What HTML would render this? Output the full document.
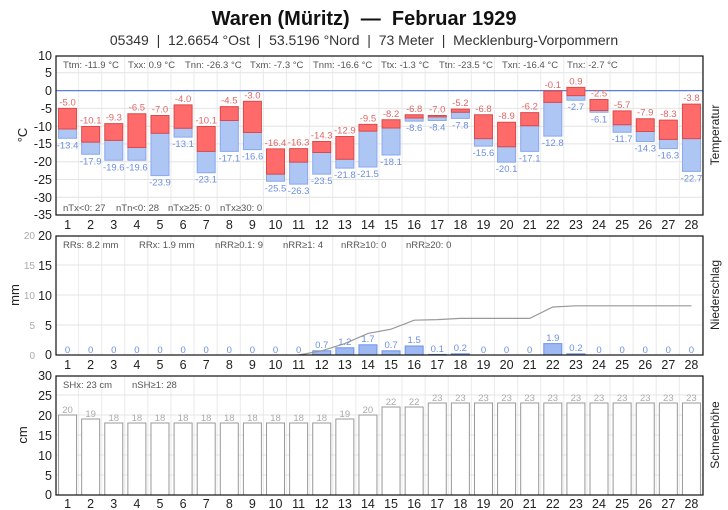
<!DOCTYPE html>
<html><head><meta charset="utf-8"><style>
body{margin:0;background:#fff}
svg{display:block;font-family:"Liberation Sans",sans-serif}
.s{font-size:9.5px;fill:#555}
.tk{font-size:12.5px;fill:#222}
.tx{font-size:9.5px;fill:#e06666;text-anchor:middle}
.tn{font-size:9.5px;fill:#6d8fe0;text-anchor:middle}
.sn{font-size:9.5px;fill:#aaa;text-anchor:middle}
.d text{font-size:12.5px;fill:#222;text-anchor:middle}
.b rect{vector-effect:non-scaling-stroke}
</style></head><body>
<svg width="728" height="510" viewBox="0 0 728 510">
<defs>
<pattern id="vg" x="56" y="0" width="23.107" height="510" patternUnits="userSpaceOnUse"><rect x="22" y="0" width="2" height="510" fill="#ececec"/></pattern>
</defs>
<text x="364" y="25" text-anchor="middle" font-size="20" font-weight="bold" fill="#111">Waren (Müritz)&#160; —&#160; Februar 1929</text>
<text x="364" y="45" text-anchor="middle" font-size="14" fill="#333">05349&#160; |&#160; 12.6654 °Ost&#160; |&#160; 53.5196 °Nord&#160; |&#160; 73 Meter&#160; |&#160; Mecklenburg-Vorpommern</text>

<!-- Panel 1 -->
<rect x="56" y="56" width="647" height="159" fill="url(#vg)"/>
<g stroke="#e4e4e4" stroke-width="1">
<line x1="56" x2="703" y1="72.8" y2="72.8"/><line x1="56" x2="703" y1="108.4" y2="108.4"/><line x1="56" x2="703" y1="126.2" y2="126.2"/><line x1="56" x2="703" y1="143.9" y2="143.9"/><line x1="56" x2="703" y1="161.7" y2="161.7"/><line x1="56" x2="703" y1="179.5" y2="179.5"/><line x1="56" x2="703" y1="197.3" y2="197.3"/>
</g>
<line x1="56" x2="703" y1="90.6" y2="90.6" stroke="#5b7fd6" stroke-width="1.2"/>
<g transform="translate(0,90.6) scale(1,-3.556)">
<g class="b" fill="#aec6f4" stroke="#8aa8ec" stroke-width="1">
<rect x="58.55" y="-13.4" width="18" height="2.6"/><rect x="81.66" y="-17.9" width="18" height="3.4"/><rect x="104.77" y="-19.6" width="18" height="5.6"/><rect x="127.87" y="-19.6" width="18" height="3.6"/><rect x="150.98" y="-23.9" width="18" height="11.9"/><rect x="174.09" y="-13.1" width="18" height="2.5"/><rect x="197.19" y="-23.1" width="18" height="6"/><rect x="220.3" y="-17.1" width="18" height="8.7"/><rect x="243.41" y="-16.6" width="18" height="4.8"/><rect x="266.51" y="-25.5" width="18" height="2"/><rect x="289.62" y="-26.3" width="18" height="6.2"/><rect x="312.73" y="-23.5" width="18" height="6.1"/><rect x="335.84" y="-21.8" width="18" height="2.5"/><rect x="358.94" y="-21.5" width="18" height="10.1"/><rect x="382.05" y="-18.1" width="18" height="7.6"/><rect x="405.16" y="-8.6" width="18" height="0.9"/><rect x="428.26" y="-8.4" width="18" height="1"/><rect x="451.37" y="-7.8" width="18" height="1.7"/><rect x="474.48" y="-15.6" width="18" height="2.1"/><rect x="497.58" y="-20.1" width="18" height="4.3"/><rect x="520.69" y="-17.1" width="18" height="7.2"/><rect x="543.8" y="-12.8" width="18" height="9.5"/><rect x="566.91" y="-2.7" width="18" height="1.3"/><rect x="590.01" y="-6.1" width="18" height="0.5"/><rect x="613.12" y="-11.7" width="18" height="2.1"/><rect x="636.23" y="-14.3" width="18" height="2.8"/><rect x="659.33" y="-16.3" width="18" height="2.6"/><rect x="682.44" y="-22.7" width="18" height="9.2"/>
</g>
<g class="b" fill="#ff6b6b" stroke="#d94a4a" stroke-width="1">
<rect x="58.55" y="-10.8" width="18" height="5.8"/><rect x="81.66" y="-14.5" width="18" height="4.4"/><rect x="104.77" y="-14" width="18" height="4.7"/><rect x="127.87" y="-16" width="18" height="9.5"/><rect x="150.98" y="-12" width="18" height="5"/><rect x="174.09" y="-10.6" width="18" height="6.6"/><rect x="197.19" y="-17.1" width="18" height="7"/><rect x="220.3" y="-8.4" width="18" height="3.9"/><rect x="243.41" y="-11.8" width="18" height="8.8"/><rect x="266.51" y="-23.5" width="18" height="7.1"/><rect x="289.62" y="-20.1" width="18" height="3.8"/><rect x="312.73" y="-17.4" width="18" height="3.1"/><rect x="335.84" y="-19.3" width="18" height="6.4"/><rect x="358.94" y="-11.4" width="18" height="1.9"/><rect x="382.05" y="-10.5" width="18" height="2.3"/><rect x="405.16" y="-7.7" width="18" height="0.9"/><rect x="428.26" y="-7.4" width="18" height="0.4"/><rect x="451.37" y="-6.1" width="18" height="0.9"/><rect x="474.48" y="-13.5" width="18" height="6.7"/><rect x="497.58" y="-15.8" width="18" height="6.9"/><rect x="520.69" y="-9.9" width="18" height="3.7"/><rect x="543.8" y="-3.3" width="18" height="3.2"/><rect x="566.91" y="-1.4" width="18" height="2.3"/><rect x="590.01" y="-5.6" width="18" height="3.1"/><rect x="613.12" y="-9.6" width="18" height="3.9"/><rect x="636.23" y="-11.5" width="18" height="3.6"/><rect x="659.33" y="-13.7" width="18" height="5.4"/><rect x="682.44" y="-13.5" width="18" height="9.7"/>
</g>
</g>
<g class="tx">
<text x="67.55" y="105.4">-5.0</text><text x="90.66" y="123.5">-10.1</text><text x="113.77" y="120.7">-9.3</text><text x="136.87" y="110.7">-6.5</text><text x="159.98" y="112.5">-7.0</text><text x="183.09" y="101.8">-4.0</text><text x="206.19" y="123.5">-10.1</text><text x="229.3" y="103.6">-4.5</text><text x="252.41" y="98.3">-3.0</text><text x="275.51" y="145.9">-16.4</text><text x="298.62" y="145.6">-16.3</text><text x="321.73" y="138.4">-14.3</text><text x="344.84" y="133.5">-12.9</text><text x="367.94" y="121.4">-9.5</text><text x="391.05" y="116.8">-8.2</text><text x="414.16" y="111.8">-6.8</text><text x="437.26" y="112.5">-7.0</text><text x="460.37" y="106.1">-5.2</text><text x="483.48" y="111.8">-6.8</text><text x="506.58" y="119.2">-8.9</text><text x="529.69" y="109.6">-6.2</text><text x="552.8" y="88">-0.1</text><text x="575.91" y="84.4">0.9</text><text x="599.01" y="96.5">-2.5</text><text x="622.12" y="107.9">-5.7</text><text x="645.23" y="115.7">-7.9</text><text x="668.33" y="117.1">-8.3</text><text x="691.44" y="101.1">-3.8</text>
</g>
<g class="tn">
<text x="67.55" y="148.3">-13.4</text><text x="90.66" y="164.3">-17.9</text><text x="113.77" y="170.3">-19.6</text><text x="136.87" y="170.3">-19.6</text><text x="159.98" y="185.6">-23.9</text><text x="183.09" y="147.2">-13.1</text><text x="206.19" y="182.7">-23.1</text><text x="229.3" y="161.4">-17.1</text><text x="252.41" y="159.6">-16.6</text><text x="275.51" y="191.3">-25.5</text><text x="298.62" y="194.1">-26.3</text><text x="321.73" y="184.2">-23.5</text><text x="344.84" y="178.1">-21.8</text><text x="367.94" y="177.1">-21.5</text><text x="391.05" y="165">-18.1</text><text x="414.16" y="131.2">-8.6</text><text x="437.26" y="130.5">-8.4</text><text x="460.37" y="128.3">-7.8</text><text x="483.48" y="156.1">-15.6</text><text x="506.58" y="172.1">-20.1</text><text x="529.69" y="161.4">-17.1</text><text x="552.8" y="146.1">-12.8</text><text x="575.91" y="110.2">-2.7</text><text x="599.01" y="122.3">-6.1</text><text x="622.12" y="142.2">-11.7</text><text x="645.23" y="151.4">-14.3</text><text x="668.33" y="158.6">-16.3</text><text x="691.44" y="181.3">-22.7</text>
</g>
<g class="s">
<text x="63" y="68">Ttm: -11.9 °C</text><text x="128" y="68">Txx: 0.9 °C</text><text x="185" y="68">Tnn: -26.3 °C</text><text x="250" y="68">Txm: -7.3 °C</text><text x="313" y="68">Tnm: -16.6 °C</text><text x="381" y="68">Ttx: -1.3 °C</text><text x="439" y="68">Ttn: -23.5 °C</text><text x="502" y="68">Txn: -16.4 °C</text><text x="567" y="68">Tnx: -2.7 °C</text>
<text x="63" y="211">nTx&lt;0: 27</text><text x="116" y="211">nTn&lt;0: 28</text><text x="168" y="211">nTx≥25: 0</text><text x="220" y="211">nTx≥30: 0</text>
</g>
<rect x="56" y="56" width="647" height="159" fill="none" stroke="#111" stroke-width="1.2"/>
<g class="tk" text-anchor="end">
<text x="52" y="60">10</text><text x="52" y="77">5</text><text x="52" y="95">0</text><text x="52" y="113">-5</text><text x="52" y="131">-10</text><text x="52" y="148">-15</text><text x="52" y="166">-20</text><text x="52" y="184">-25</text><text x="52" y="202">-30</text><text x="52" y="219">-35</text>
</g>
<text transform="translate(27,135) rotate(-90)" text-anchor="middle" font-size="13" fill="#222">°C</text>
<text transform="translate(719,135) rotate(-90)" text-anchor="middle" font-size="12" fill="#222">Temperatur</text>

<!-- Panel 2 -->
<rect x="56" y="236" width="647" height="119" fill="url(#vg)"/>
<g stroke="#e4e4e4" stroke-width="1">
<line x1="56" x2="703" y1="265" y2="265"/><line x1="56" x2="703" y1="295" y2="295"/><line x1="56" x2="703" y1="325" y2="325"/>
</g>
<g fill="#9db8f2" stroke="#6f93e6" stroke-width="1">
<rect x="312.73" y="350.8" width="18" height="4.2"/><rect x="335.84" y="347.8" width="18" height="7.2"/><rect x="358.94" y="344.8" width="18" height="10.2"/><rect x="382.05" y="350.8" width="18" height="4.2"/><rect x="405.16" y="346" width="18" height="9"/><rect x="428.26" y="354.4" width="18" height="0.6"/><rect x="451.37" y="353.8" width="18" height="1.2"/><rect x="543.8" y="343.6" width="18" height="11.4"/><rect x="566.91" y="353.8" width="18" height="1.2"/>
</g>
<polyline fill="none" stroke="#999" stroke-width="1.2" points="298.62,355 321.73,350.8 344.84,343.6 367.94,333.4 391.05,329.2 414.16,320.2 437.26,319.6 460.37,318.4 529.69,318.4 552.8,307 575.91,305.8 691.44,305.8"/>
<g class="tn">
<text x="67.55" y="353">0</text><text x="90.66" y="353">0</text><text x="113.77" y="353">0</text><text x="136.87" y="353">0</text><text x="159.98" y="353">0</text><text x="183.09" y="353">0</text><text x="206.19" y="353">0</text><text x="229.3" y="353">0</text><text x="252.41" y="353">0</text><text x="275.51" y="353">0</text><text x="298.62" y="353">0</text><text x="321.73" y="348">0.7</text><text x="344.84" y="345">1.2</text><text x="367.94" y="342">1.7</text><text x="391.05" y="348">0.7</text><text x="414.16" y="343">1.5</text><text x="437.26" y="352">0.1</text><text x="460.37" y="351">0.2</text><text x="483.48" y="353">0</text><text x="506.58" y="353">0</text><text x="529.69" y="353">0</text><text x="552.8" y="341">1.9</text><text x="575.91" y="351">0.2</text><text x="599.01" y="353">0</text><text x="622.12" y="353">0</text><text x="645.23" y="353">0</text><text x="668.33" y="353">0</text><text x="691.44" y="353">0</text>
</g>
<g class="s">
<text x="63" y="248">RRs: 8.2 mm</text><text x="139" y="248">RRx: 1.9 mm</text><text x="215" y="248">nRR≥0.1: 9</text><text x="283" y="248">nRR≥1: 4</text><text x="341" y="248">nRR≥10: 0</text><text x="406" y="248">nRR≥20: 0</text>
</g>
<rect x="56" y="236" width="647" height="119" fill="none" stroke="#111" stroke-width="1.2"/>
<g class="tk" text-anchor="end">
<text x="52" y="240">20</text><text x="52" y="270">15</text><text x="52" y="300">10</text><text x="52" y="330">5</text><text x="52" y="359">0</text>
</g>
<g font-size="10" fill="#aaa" text-anchor="end">
<text x="35" y="239">20</text><text x="35" y="269">15</text><text x="35" y="299">10</text><text x="35" y="329">5</text><text x="35" y="359">0</text>
</g>
<text transform="translate(19,295) rotate(-90)" text-anchor="middle" font-size="13" fill="#222">mm</text>
<text transform="translate(719,295) rotate(-90)" text-anchor="middle" font-size="12" fill="#222">Niederschlag</text>

<!-- Panel 3 -->
<rect x="56" y="376" width="647" height="119" fill="url(#vg)"/>
<g stroke="#e4e4e4" stroke-width="1">
<line x1="56" x2="703" y1="395" y2="395"/><line x1="56" x2="703" y1="415" y2="415"/><line x1="56" x2="703" y1="435" y2="435"/><line x1="56" x2="703" y1="455" y2="455"/><line x1="56" x2="703" y1="475" y2="475"/>
</g>
<g fill="#fff" stroke="#999" stroke-width="1">
<rect x="58.55" y="415" width="18" height="80"/><rect x="81.66" y="419" width="18" height="76"/><rect x="104.77" y="423" width="18" height="72"/><rect x="127.87" y="423" width="18" height="72"/><rect x="150.98" y="423" width="18" height="72"/><rect x="174.09" y="423" width="18" height="72"/><rect x="197.19" y="423" width="18" height="72"/><rect x="220.3" y="423" width="18" height="72"/><rect x="243.41" y="423" width="18" height="72"/><rect x="266.51" y="423" width="18" height="72"/><rect x="289.62" y="423" width="18" height="72"/><rect x="312.73" y="423" width="18" height="72"/><rect x="335.84" y="419" width="18" height="76"/><rect x="358.94" y="415" width="18" height="80"/><rect x="382.05" y="407" width="18" height="88"/><rect x="405.16" y="407" width="18" height="88"/><rect x="428.26" y="403" width="18" height="92"/><rect x="451.37" y="403" width="18" height="92"/><rect x="474.48" y="403" width="18" height="92"/><rect x="497.58" y="403" width="18" height="92"/><rect x="520.69" y="403" width="18" height="92"/><rect x="543.8" y="403" width="18" height="92"/><rect x="566.91" y="403" width="18" height="92"/><rect x="590.01" y="403" width="18" height="92"/><rect x="613.12" y="403" width="18" height="92"/><rect x="636.23" y="403" width="18" height="92"/><rect x="659.33" y="403" width="18" height="92"/><rect x="682.44" y="403" width="18" height="92"/>
</g>
<g class="sn">
<text x="67.55" y="413">20</text><text x="90.66" y="417">19</text><text x="113.77" y="421">18</text><text x="136.87" y="421">18</text><text x="159.98" y="421">18</text><text x="183.09" y="421">18</text><text x="206.19" y="421">18</text><text x="229.3" y="421">18</text><text x="252.41" y="421">18</text><text x="275.51" y="421">18</text><text x="298.62" y="421">18</text><text x="321.73" y="421">18</text><text x="344.84" y="417">19</text><text x="367.94" y="413">20</text><text x="391.05" y="405">22</text><text x="414.16" y="405">22</text><text x="437.26" y="401">23</text><text x="460.37" y="401">23</text><text x="483.48" y="401">23</text><text x="506.58" y="401">23</text><text x="529.69" y="401">23</text><text x="552.8" y="401">23</text><text x="575.91" y="401">23</text><text x="599.01" y="401">23</text><text x="622.12" y="401">23</text><text x="645.23" y="401">23</text><text x="668.33" y="401">23</text><text x="691.44" y="401">23</text>
</g>
<g class="s">
<text x="63" y="388">SHx: 23 cm</text><text x="132" y="388">nSH≥1: 28</text>
</g>
<rect x="56" y="376" width="647" height="119" fill="none" stroke="#111" stroke-width="1.2"/>
<g class="tk" text-anchor="end">
<text x="52" y="380">30</text><text x="52" y="400">25</text><text x="52" y="420">20</text><text x="52" y="440">15</text><text x="52" y="460">10</text><text x="52" y="480">5</text><text x="52" y="499">0</text>
</g>
<text transform="translate(27,435) rotate(-90)" text-anchor="middle" font-size="13" fill="#222">cm</text>
<text transform="translate(719,435) rotate(-90)" text-anchor="middle" font-size="12" fill="#222">Schneehöhe</text>

<!-- day labels -->
<g class="d">
<text x="67.55" y="229">1</text><text x="90.66" y="229">2</text><text x="113.77" y="229">3</text><text x="136.87" y="229">4</text><text x="159.98" y="229">5</text><text x="183.09" y="229">6</text><text x="206.19" y="229">7</text><text x="229.3" y="229">8</text><text x="252.41" y="229">9</text><text x="275.51" y="229">10</text><text x="298.62" y="229">11</text><text x="321.73" y="229">12</text><text x="344.84" y="229">13</text><text x="367.94" y="229">14</text><text x="391.05" y="229">15</text><text x="414.16" y="229">16</text><text x="437.26" y="229">17</text><text x="460.37" y="229">18</text><text x="483.48" y="229">19</text><text x="506.58" y="229">20</text><text x="529.69" y="229">21</text><text x="552.8" y="229">22</text><text x="575.91" y="229">23</text><text x="599.01" y="229">24</text><text x="622.12" y="229">25</text><text x="645.23" y="229">26</text><text x="668.33" y="229">27</text><text x="691.44" y="229">28</text>
</g>
<g class="d">
<text x="67.55" y="369">1</text><text x="90.66" y="369">2</text><text x="113.77" y="369">3</text><text x="136.87" y="369">4</text><text x="159.98" y="369">5</text><text x="183.09" y="369">6</text><text x="206.19" y="369">7</text><text x="229.3" y="369">8</text><text x="252.41" y="369">9</text><text x="275.51" y="369">10</text><text x="298.62" y="369">11</text><text x="321.73" y="369">12</text><text x="344.84" y="369">13</text><text x="367.94" y="369">14</text><text x="391.05" y="369">15</text><text x="414.16" y="369">16</text><text x="437.26" y="369">17</text><text x="460.37" y="369">18</text><text x="483.48" y="369">19</text><text x="506.58" y="369">20</text><text x="529.69" y="369">21</text><text x="552.8" y="369">22</text><text x="575.91" y="369">23</text><text x="599.01" y="369">24</text><text x="622.12" y="369">25</text><text x="645.23" y="369">26</text><text x="668.33" y="369">27</text><text x="691.44" y="369">28</text>
</g>
<g class="d">
<text x="67.55" y="508">1</text><text x="90.66" y="508">2</text><text x="113.77" y="508">3</text><text x="136.87" y="508">4</text><text x="159.98" y="508">5</text><text x="183.09" y="508">6</text><text x="206.19" y="508">7</text><text x="229.3" y="508">8</text><text x="252.41" y="508">9</text><text x="275.51" y="508">10</text><text x="298.62" y="508">11</text><text x="321.73" y="508">12</text><text x="344.84" y="508">13</text><text x="367.94" y="508">14</text><text x="391.05" y="508">15</text><text x="414.16" y="508">16</text><text x="437.26" y="508">17</text><text x="460.37" y="508">18</text><text x="483.48" y="508">19</text><text x="506.58" y="508">20</text><text x="529.69" y="508">21</text><text x="552.8" y="508">22</text><text x="575.91" y="508">23</text><text x="599.01" y="508">24</text><text x="622.12" y="508">25</text><text x="645.23" y="508">26</text><text x="668.33" y="508">27</text><text x="691.44" y="508">28</text>
</g>
</svg>
</body></html>
